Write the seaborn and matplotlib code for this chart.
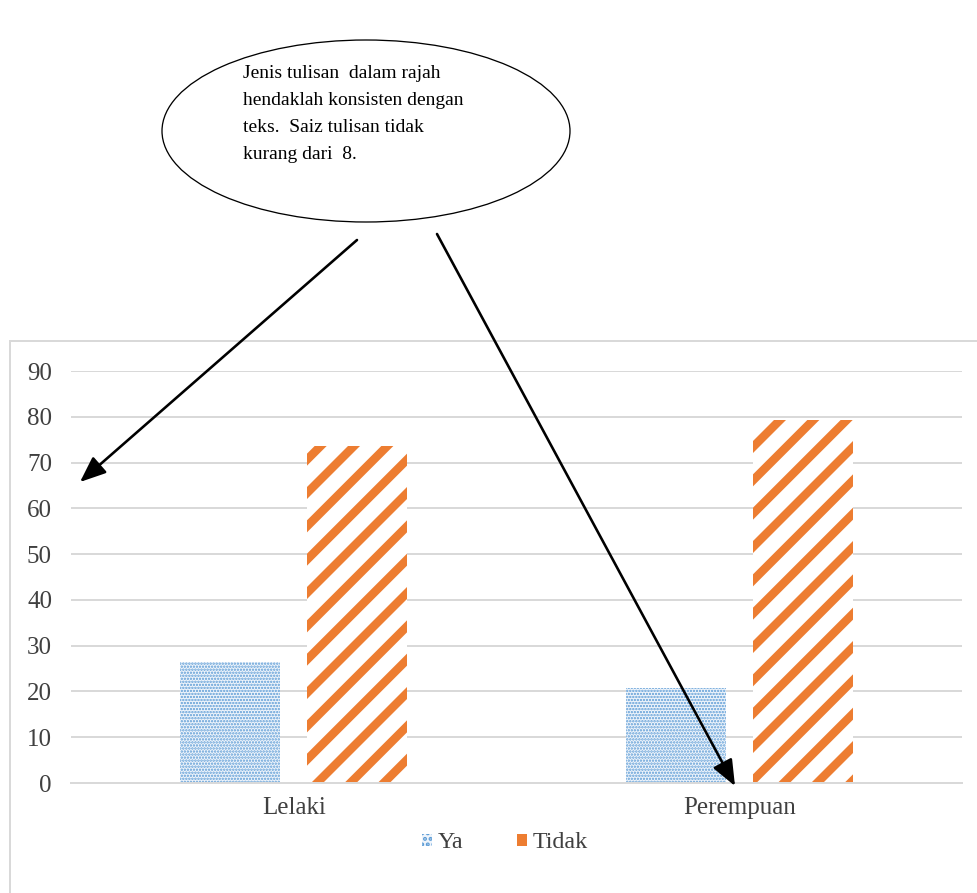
import matplotlib
matplotlib.use("Agg")
import matplotlib.pyplot as plt
from matplotlib.patches import Ellipse, Rectangle, FancyArrowPatch, Patch
import seaborn as sns
import pandas as pd

# Survey answers by gender (percent)
categories = ["Lelaki", "Perempuan"]
series_names = ["Ya", "Tidak"]
ya_values = [26.4, 20.7]
tidak_values = [73.6, 79.3]
y_ticks = [0, 10, 20, 30, 40, 50, 60, 70, 80, 90]
note_lines = [
    "Jenis tulisan  dalam rajah",
    "hendaklah konsisten dengan",
    "teks.  Saiz tulisan tidak",
    "kurang dari  8.",
]

DPI = 200
W, H = 978, 893


def pt(px):
    """Convert a size in output pixels to points."""
    return px * 72.0 / DPI


def fx(x):
    return x / W


def fy(y):
    return 1 - y / H


sns.set_theme(style="white")
plt.rcParams["font.family"] = ["Liberation Serif", "DejaVu Serif"]

df = pd.DataFrame({
    "jantina": categories * 2,
    "jawapan": [series_names[0]] * 2 + [series_names[1]] * 2,
    "nilai": ya_values + tidak_values,
})

fig = plt.figure(figsize=(W / DPI, H / DPI), dpi=DPI)
ax = fig.add_axes([fx(71), fy(783), fx(962) - fx(71), fy(371) - fy(783)])

BLUE = "#5B9BD5"
ORANGE = "#ED7D31"
GRID = "#D9D9D9"
TEXT = "#404040"

sns.barplot(data=df, x="jantina", y="nilai", hue="jawapan",
            hue_order=series_names, order=categories,
            width=0.57, gap=0.21, ax=ax, legend=False,
            palette=[BLUE, ORANGE], saturation=1)

styles = {
    0: dict(face="#EEF4FB", hatch="." * 11, color=BLUE, hlw=pt(1.6)),
    1: dict(face="white", hatch="//", color=ORANGE, hlw=pt(8.5)),
}
for i, cont in enumerate(ax.containers):
    st = styles[i]
    for bar in cont:
        bar.set_facecolor(st["face"])
        bar.set_edgecolor(st["color"])
        bar.set_linewidth(0)
        bar.set_hatch(st["hatch"])
        if hasattr(bar, "set_hatch_linewidth"):
            bar.set_hatch_linewidth(st["hlw"])

ax.set_ylim(0, 90)
ax.set_yticks(y_ticks)
ax.set_yticklabels([str(v) for v in y_ticks])
ax.set_xlim(-0.5, 1.5)
ax.set_xlabel("")
ax.set_ylabel("")
ax.set_axisbelow(True)
ax.yaxis.grid(True, color=GRID, linewidth=pt(2.0))
ax.xaxis.grid(False)
for s in ["top", "right", "left"]:
    ax.spines[s].set_visible(False)
ax.spines["bottom"].set_color(GRID)
ax.spines["bottom"].set_linewidth(pt(2.0))
ax.tick_params(axis="y", length=0, pad=pt(19), labelsize=pt(25), labelcolor=TEXT)
ax.tick_params(axis="x", length=0, pad=pt(14), labelsize=pt(25), labelcolor=TEXT)

# legend below the categories
handles = []
for i, name in enumerate(series_names):
    st = styles[i]
    h = Patch(facecolor=st["face"] if i == 0 else ORANGE, edgecolor=st["color"],
              hatch="......" if i == 0 else None, linewidth=0, label=name)
    handles.append(h)
leg = fig.legend(handles=handles, loc="center", bbox_to_anchor=(fx(505), fy(843)),
                 ncol=2, frameon=False, fontsize=pt(24), labelcolor=TEXT,
                 handlelength=0.42, handleheight=0.42, handletextpad=0.25,
                 columnspacing=2.2)

# chart frame
fig.add_artist(Rectangle((fx(10), -0.05), 1.0, fy(341) + 0.05,
                         transform=fig.transFigure, fill=False,
                         edgecolor=GRID, linewidth=pt(2.0)))

# callout ellipse with note
fig.add_artist(Ellipse((fx(366), fy(131)), fx(408), 182 / H,
                       transform=fig.transFigure, fill=False,
                       edgecolor="black", linewidth=pt(1.3)))
for k, line in enumerate(note_lines):
    fig.text(fx(243), fy(78 + 27 * k), line, fontsize=pt(19.5),
             color="black", ha="left", va="baseline")

# arrows from the callout into the chart
for (x0, y0), (x1, y1) in [((357, 240), (80, 482)), ((437, 234), (735, 786))]:
    fig.add_artist(FancyArrowPatch((fx(x0), fy(y0)), (fx(x1), fy(y1)),
                                   transform=fig.transFigure,
                                   arrowstyle="-|>,head_length=%f,head_width=%f" % (pt(22), pt(9)),
                                   mutation_scale=1, color="black",
                                   linewidth=pt(2.6), shrinkA=0, shrinkB=0,
                                   zorder=10))

fig.savefig("out.png", dpi=DPI)
